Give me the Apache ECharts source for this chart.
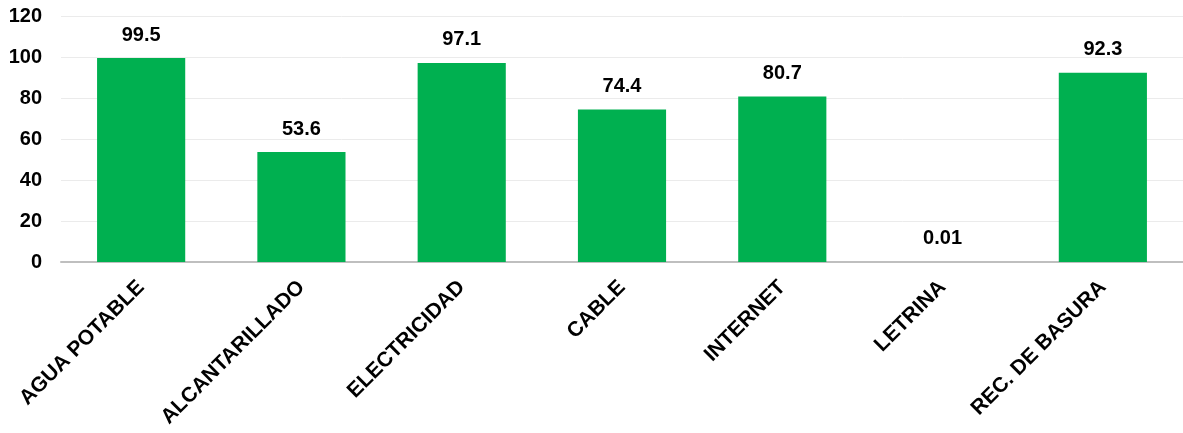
<!DOCTYPE html>
<html>
<head>
<meta charset="utf-8">
<script src="https://cdn.jsdelivr.net/npm/echarts@6/dist/echarts.min.js"></script>
<style>
  html, body { margin: 0; padding: 0; background: #fff; }
</style>
</head>
<body>
<div id="chart" style="width: 1183px; height: 433px"></div>
<script>
// servicios basicos (%)
const categories = [
  "AGUA POTABLE",
  "ALCANTARILLADO",
  "ELECTRICIDAD",
  "CABLE",
  "INTERNET",
  "LETRINA",
  "REC. DE BASURA",
];
const values = [99.5, 53.6, 97.1, 74.4, 80.7, 0.01, 92.3];
const yTicks = { min: 0, max: 120, interval: 20 };

const myChart = echarts.init(document.getElementById("chart"));
const font = "Arial, 'Liberation Sans', sans-serif";
const option = {
  animation: false,
  grid: {
    left: 61,
    right: -7,
    top: 16,
    bottom: 171,
  },
  xAxis: {
    type: "category",
    data: categories,
    axisTick: { show: false },
    axisLine: { lineStyle: { color: "#BFBFBF", width: 2 } },
    axisLabel: {
      rotate: 45,
      margin: 22,
      interval: 0,
      color: "#000",
      fontFamily: font,
      fontWeight: "bold",
      fontSize: 21,
    },
  },
  yAxis: {
    type: "value",
    min: yTicks.min,
    max: yTicks.max,
    interval: yTicks.interval,
    axisLine: { show: false },
    axisTick: { show: false },
    splitLine: { lineStyle: { color: "#EBEBEB", width: 1 } },
    axisLabel: {
      margin: 19,
      color: "#000",
      fontFamily: font,
      fontWeight: "bold",
      fontSize: 20,
    },
  },
  series: [
    {
      type: "bar",
      data: values,
      barWidth: "55%",
      itemStyle: { color: "#00B050" },
      label: {
        show: true,
        position: "top",
        distance: 13,
        color: "#000",
        fontFamily: font,
        fontWeight: "bold",
        fontSize: 20,
        formatter: (p) => String(p.value),
      },
    },
  ],
};
myChart.setOption(option);
</script>
</body>
</html>
